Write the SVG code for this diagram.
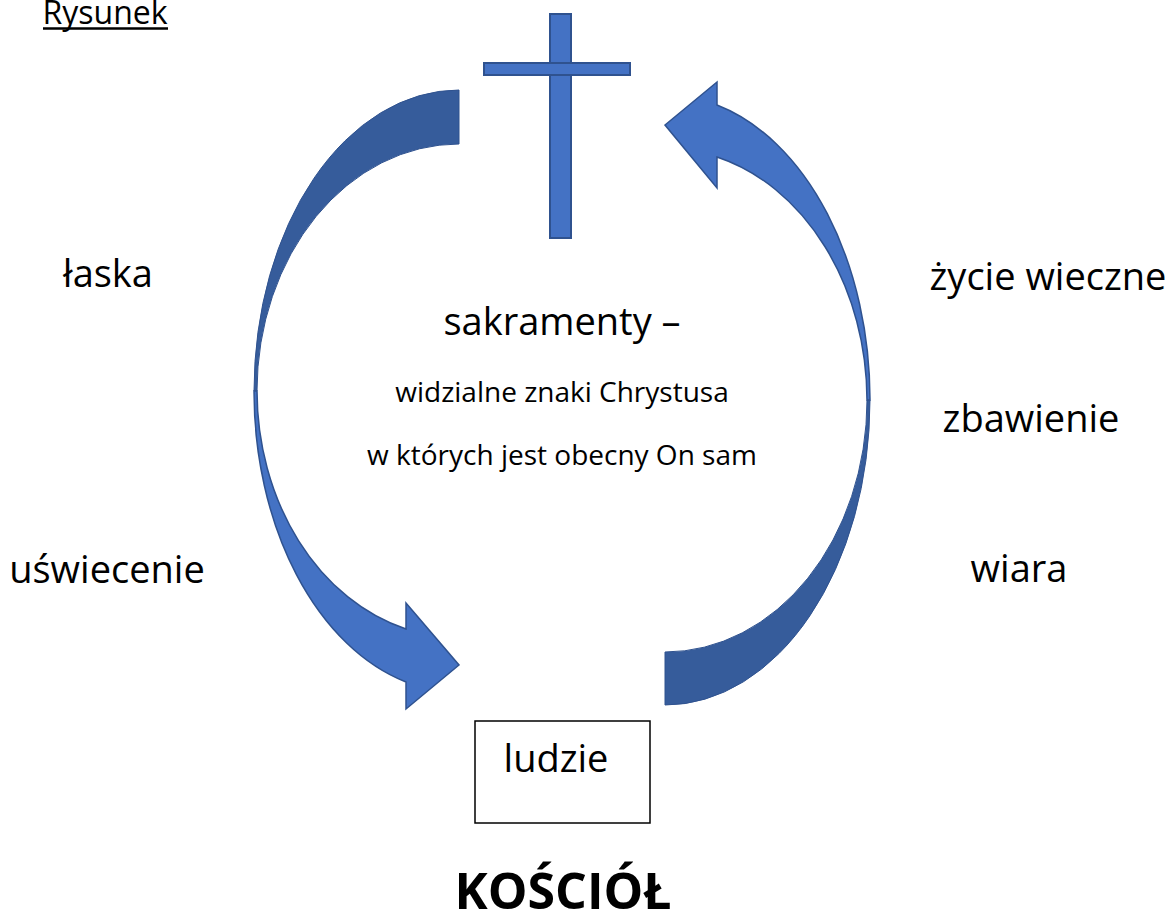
<svg xmlns="http://www.w3.org/2000/svg" width="1168" height="917" viewBox="0 0 1168 917">
<style>
.t{font-family:"Open Sans","Noto Sans","Liberation Sans",sans-serif;fill:#000;}
.big{font-size:38px;}
.mid{font-size:28px;}
.cross{fill:#4472C4;stroke:#2F528F;stroke-width:2;}
.arrL{fill:#4472C4;stroke:#2F528F;stroke-width:1.5;stroke-linejoin:miter;}
.arrD{fill:#365C9B;stroke:#2F528F;stroke-width:1;}
</style>
<rect width="1168" height="917" fill="#fff"/>
<g id="title">
<text class="t" x="105" y="24" font-size="32" text-anchor="middle">Rysunek</text>
<line x1="43" y1="28.5" x2="168" y2="28.5" stroke="#000" stroke-width="2.5"/>
</g>
<g id="cross">
<rect class="cross" x="550" y="14" width="21" height="224"/>
<rect class="cross" x="484" y="63" width="146" height="12"/>
</g>
<g id="connectors">
<g id="arrow-left">
<path class="arrD" d="M459,90 A205,301 0 0 0 254,391 L257,391 A202,247 0 0 1 459,144 Z"/>
<path class="arrL" d="M254,391 A205,301 0 0 0 406,682 L406,709 L459,665 L406,603 L406,629 A202,247 0 0 1 257,391 Z"/>
</g>
<g id="arrow-right">
<path class="arrD" d="M665,705 A205,305 0 0 0 870,400 L867,400 A202,252 0 0 1 665,652 Z"/>
<path class="arrL" d="M870,400 A205,305 0 0 0 717,105 L717,82 L665,125 L717,188 L717,157 A202,252 0 0 1 867,400 Z"/>
</g>
</g>
<g id="center-text">
<text class="t big" x="562" y="335" text-anchor="middle">sakramenty –</text>
<text class="t mid" x="562" y="402" text-anchor="middle">widzialne znaki Chrystusa</text>
<text class="t mid" x="562" y="465" text-anchor="middle">w których jest obecny On sam</text>
</g>
<g id="label-laska"><text class="t big" x="108" y="287" text-anchor="middle">łaska</text></g>
<g id="label-uswiecenie"><text class="t big" x="107" y="583" text-anchor="middle">uświecenie</text></g>
<g id="label-zycie"><text class="t big" x="1048" y="290" text-anchor="middle">życie wieczne</text></g>
<g id="label-zbawienie"><text class="t big" x="1031" y="432" text-anchor="middle">zbawienie</text></g>
<g id="label-wiara"><text class="t big" x="1019" y="582" text-anchor="middle">wiara</text></g>
<g id="ludzie">
<rect x="475" y="721" width="175" height="102" fill="#fff" stroke="#000" stroke-width="1.5"/>
<text class="t big" x="556" y="772" text-anchor="middle">ludzie</text>
</g>
<g id="kosciol"><text class="t" x="563" y="909" font-size="50" font-weight="bold" text-anchor="middle">KOŚCIÓŁ</text></g>
</svg>
